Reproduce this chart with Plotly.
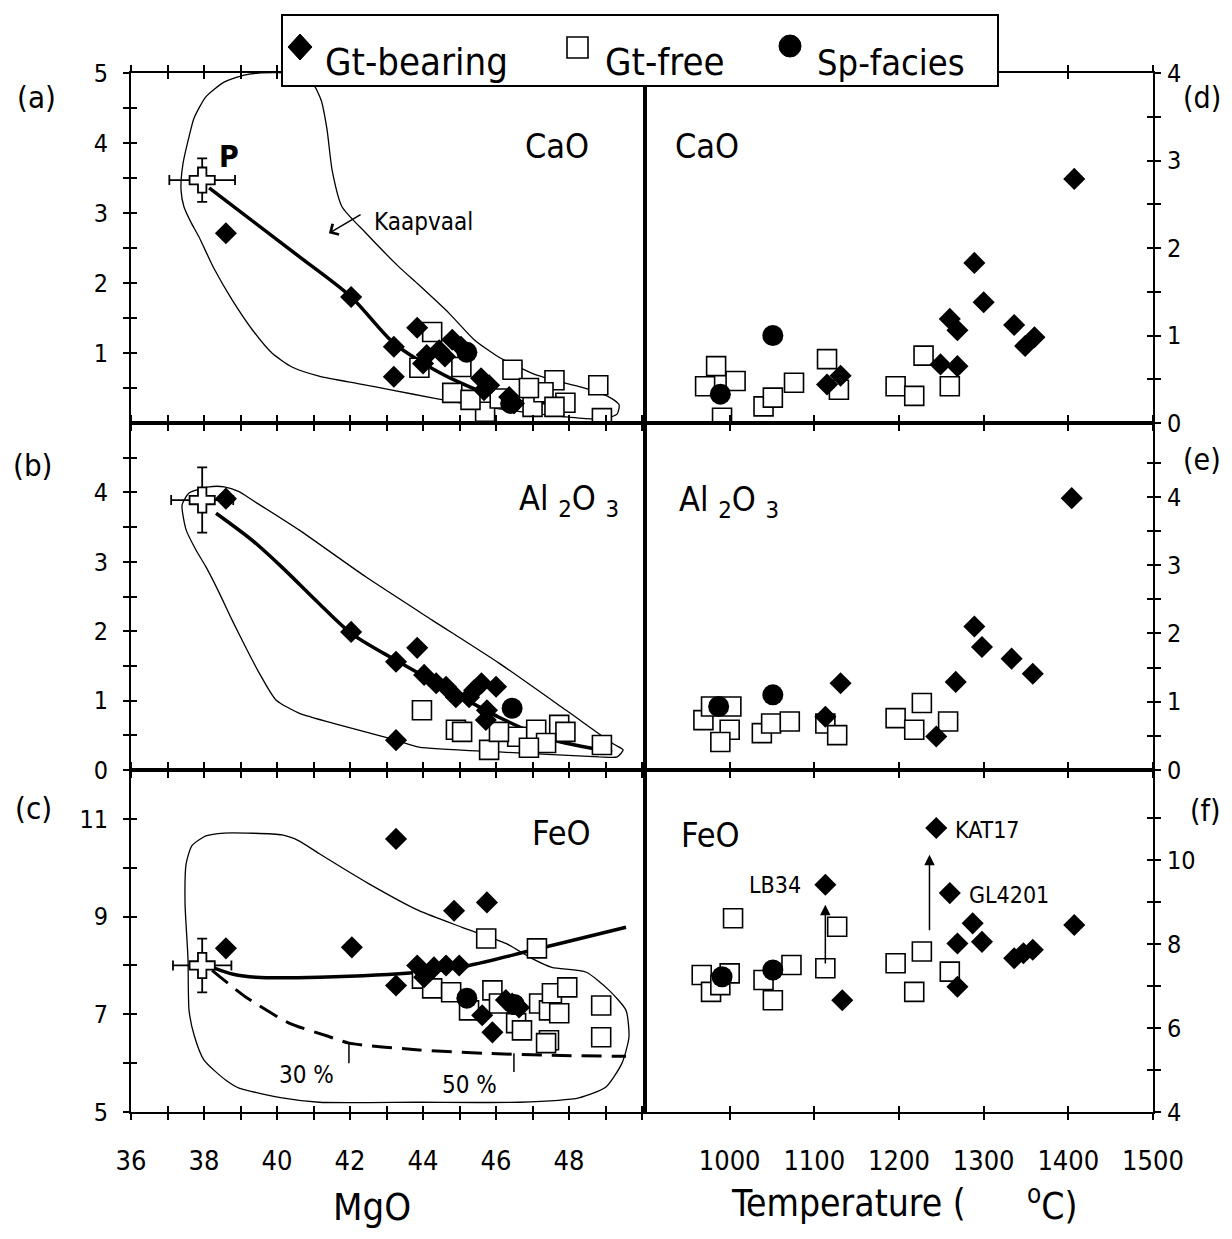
import plotly.graph_objects as go

# page is shown with an 8 px body margin: figure pixel = page pixel - 8
OFF = 8
W, H = 1232 - 2 * OFF, 1239 - 2 * OFF
FONT = "DejaVu Sans Condensed, Liberation Sans Narrow, Arial Narrow, sans-serif"

# ---------------- tick values / labels ----------------
mgo_ticks = list(range(36, 51))
mgo_labels = [str(v) if (v % 2 == 0 and v <= 48) else "" for v in mgo_ticks]
temp_ticks = [1000, 1100, 1200, 1300, 1400, 1500]
temp_labels = ["1000", "1100", "1200", "1300", "1400", "1500"]
a_yticks = [0.5, 1, 1.5, 2, 2.5, 3, 3.5, 4, 4.5, 5]
a_ylabels = ["", "1", "", "2", "", "3", "", "4", "", "5"]
b_yticks = [0, 0.5, 1, 1.5, 2, 2.5, 3, 3.5, 4, 4.5]
b_ylabels = ["0", "", "1", "", "2", "", "3", "", "4", ""]
c_yticks = [5, 6, 7, 8, 9, 10, 11]
c_ylabels = ["5", "", "7", "", "9", "", "11"]
d_yticks = [0, 0.5, 1, 1.5, 2, 2.5, 3, 3.5, 4]
d_ylabels = ["0", "", "1", "", "2", "", "3", "", "4"]
e_yticks = [0, 0.5, 1, 1.5, 2, 2.5, 3, 3.5, 4, 4.5]
e_ylabels = ["0", "", "1", "", "2", "", "3", "", "4", ""]
f_yticks = [4, 5, 6, 7, 8, 9, 10, 11]
f_ylabels = ["4", "", "6", "", "8", "", "10", ""]

# ---------------- (a) CaO vs MgO ----------------
a_gt_mgo = [38.6, 42.03, 43.84, 43.2, 43.2, 44.1, 44.44, 44.8, 45.04, 45.59, 45.81, 46.36, 46.49, 45.67, 44.0, 44.6]
a_gt_cao = [2.71, 1.80, 1.36, 1.09, 0.66, 0.97, 1.04, 1.19, 1.09, 0.64, 0.54, 0.37, 0.28, 0.47, 0.85, 0.95]
a_free_mgo = [44.25, 43.9, 44.8, 45.05, 46.45, 45.7, 45.3, 47.0, 47.6, 47.3, 47.9, 47.6, 48.8, 48.9, 46.9, 46.1]
a_free_cao = [1.30, 0.79, 0.43, 0.80, 0.76, 0.16, 0.33, 0.23, 0.61, 0.44, 0.29, 0.23, 0.54, 0.07, 0.50, 0.35]
a_sp_mgo = [45.2, 46.4]
a_sp_cao = [1.01, 0.28]
a_line_mgo = [38.14, 40.6, 42.03, 43.2, 44.25, 45.0, 45.7, 46.5, 47.2, 47.95]
a_line_cao = [3.36, 2.38, 1.80, 1.14, 0.78, 0.58, 0.43, 0.32, 0.29, 0.29]
a_env_mgo = [39.10, 38.55, 38.05, 37.73, 37.59, 37.42, 37.37, 37.45, 37.64, 37.86, 38.27, 38.77, 39.37, 39.86,
             40.41, 41.15, 42.25, 43.15, 44.25, 45.34, 46.99, 48.27, 48.96, 49.32, 49.37, 49.10, 48.36, 47.59,
             46.99, 46.08, 45.40, 44.71, 43.89, 43.34, 42.44, 41.78, 41.51, 41.37, 41.21, 41.01, 40.74, 40.33,
             39.5, 39.10]
a_env_cao = [4.97, 4.87, 4.66, 4.36, 4.09, 3.69, 3.33, 3.09, 2.87, 2.66, 2.21, 1.76, 1.30, 1.00,
             0.80, 0.67, 0.56, 0.47, 0.36, 0.26, 0.14, 0.07, 0.06, 0.13, 0.26, 0.37, 0.51, 0.61,
             0.71, 0.94, 1.19, 1.57, 1.97, 2.23, 2.71, 3.09, 3.61, 4.19, 4.61, 4.83, 4.96, 5.0,
             5.0, 4.97]
a_P = dict(mgo=37.95, val=3.47, mgo_err=0.9, val_err=0.31)

# ---------------- (b) Al2O3 vs MgO ----------------
b_gt_mgo = [38.6, 42.03, 43.26, 43.84, 44.03, 44.36, 44.63, 44.9, 45.26, 45.6, 46.0, 45.72, 43.26, 45.4, 45.75]
b_gt_al = [3.91, 1.99, 1.56, 1.76, 1.37, 1.25, 1.20, 1.05, 1.05, 1.25, 1.20, 0.72, 0.43, 1.15, 0.86]
b_free_mgo = [43.97, 44.9, 45.07, 45.81, 46.58, 47.1, 47.73, 47.9, 47.37, 48.9, 46.08, 46.9]
b_free_al = [0.86, 0.58, 0.55, 0.29, 0.48, 0.58, 0.65, 0.55, 0.39, 0.36, 0.55, 0.32]
b_sp_mgo = [46.44]
b_sp_al = [0.89]
b_line_mgo = [38.33, 39.32, 40.14, 41.15, 42.03, 43.26, 44.71, 46.08, 47.45, 49.18]
b_line_al = [3.70, 3.31, 2.92, 2.40, 1.97, 1.58, 1.15, 0.76, 0.45, 0.26]
b_env_mgo = [38.14, 37.59, 37.40, 37.51, 37.78, 38.05, 38.41, 38.77, 39.18, 39.51, 39.97, 40.60, 41.70, 43.26,
             43.89, 46.08, 48.82, 49.32, 49.48, 49.23, 47.92, 46.08, 44.25, 42.44, 40.60, 39.32, 38.96, 38.55,
             38.14]
b_env_al = [4.08, 3.99, 3.82, 3.46, 3.17, 2.93, 2.56, 2.16, 1.73, 1.40, 1.01, 0.82, 0.65, 0.43,
            0.33, 0.26, 0.19, 0.19, 0.29, 0.37, 0.86, 1.54, 2.16, 2.78, 3.46, 3.89, 4.01, 4.08,
            4.08]
b_P = dict(mgo=37.95, val=3.89, mgo_err=0.85, val_err=0.47)

# ---------------- (c) FeO vs MgO ----------------
c_gt_mgo = [38.6, 43.26, 42.05, 44.85, 45.75, 43.26, 43.84, 44.03, 44.3, 44.63, 44.99, 45.62, 45.9, 46.44, 46.63, 46.27]
c_gt_fe = [8.35, 10.59, 8.37, 9.12, 9.29, 7.59, 8.0, 7.76, 7.96, 8.0, 8.0, 6.98, 6.63, 7.22, 7.14, 7.29]
c_free_mgo = [45.73, 47.12, 43.97, 44.25, 44.77, 45.26, 45.9, 46.08, 46.55, 46.71, 47.18, 47.45, 47.53, 47.95,
              47.73, 47.45, 47.37, 48.88, 48.88]
c_free_fe = [8.55, 8.35, 7.73, 7.53, 7.45, 7.08, 7.49, 7.22, 6.82, 6.67, 7.22, 7.08, 7.43, 7.55,
             7.02, 6.47, 6.41, 7.18, 6.53]
c_sp_mgo = [45.2, 46.5]
c_sp_fe = [7.33, 7.2]
c_line_mgo = [38.22, 38.8, 39.42, 41.15, 43.89, 45.26, 46.99, 49.56]
c_line_fe = [7.96, 7.82, 7.76, 7.76, 7.86, 8.0, 8.31, 8.78]
c_dash_mgo = [38.22, 39.15, 40.33, 41.4, 41.97, 43.89, 45.73, 47.53, 49.56]
c_dash_fe = [7.9, 7.35, 6.82, 6.55, 6.41, 6.27, 6.2, 6.16, 6.14]
c_melt_mgo = [41.97, 46.49]          # 30 % and 50 % melting marks
c_melt_top = [6.41, 6.2]
c_melt_bot = [6.0, 5.82]
c_melt_labels = ["30 %", "50 %"]
c_melt_label_mgo = [40.8, 45.26]
c_melt_label_fe = [5.76, 5.55]
c_env_mgo = [38.05, 38.55, 40.14, 40.60, 41.15, 42.52, 43.89, 45.07, 46.27, 46.99, 47.53, 48.47, 49.10, 49.56,
             49.64, 49.45, 49.01, 48.27, 46.63, 43.89, 41.15, 40.14, 38.96, 38.60, 38.0, 37.73, 37.59, 37.56,
             37.48, 37.51, 37.67, 38.05]
c_env_fe = [10.65, 10.71, 10.67, 10.55, 10.29, 9.67, 9.12, 8.78, 8.45, 8.14, 7.96, 7.86, 7.49, 7.08,
            6.53, 6.0, 5.51, 5.29, 5.20, 5.20, 5.20, 5.29, 5.49, 5.65, 6.06, 6.57, 7.08, 8.16,
            9.27, 10.08, 10.45, 10.65]
c_P = dict(mgo=37.95, val=8.0, mgo_err=0.8, val_err=0.55)

# ---------------- (d) CaO vs T ----------------
d_gt_t = [1115, 1131, 1249, 1269, 1260, 1269, 1289, 1300, 1336, 1349, 1360, 1407]
d_gt_cao = [0.44, 0.54, 0.67, 0.65, 1.19, 1.06, 1.83, 1.38, 1.12, 0.88, 0.98, 2.79]
d_free_t = [984, 971, 1007, 991, 1040, 1051, 1076, 1115, 1129, 1196, 1218, 1229, 1260]
d_free_cao = [0.65, 0.42, 0.48, 0.06, 0.19, 0.29, 0.46, 0.73, 0.38, 0.42, 0.31, 0.77, 0.42]
d_sp_t = [989, 1051]
d_sp_cao = [0.33, 1.0]

# ---------------- (e) Al2O3 vs T ----------------
e_gt_t = [1404, 1289, 1298, 1333, 1358, 1267, 1131, 1113, 1244]
e_gt_al = [3.98, 2.10, 1.80, 1.63, 1.41, 1.29, 1.27, 0.78, 0.49]
e_free_t = [969, 978, 1002, 1000, 989, 1038, 1049, 1071, 1113, 1127, 1196, 1227, 1218, 1258]
e_free_al = [0.73, 0.93, 0.93, 0.59, 0.41, 0.54, 0.68, 0.71, 0.68, 0.51, 0.76, 0.98, 0.59, 0.71]
e_sp_t = [987, 1051]
e_sp_al = [0.93, 1.10]

# ---------------- (f) FeO vs T ----------------
f_gt_t = [1244, 1113, 1260, 1407, 1287, 1298, 1269, 1336, 1347, 1358, 1269, 1133]
f_gt_fe = [10.76, 9.41, 9.21, 8.45, 8.49, 8.05, 8.01, 7.66, 7.78, 7.86, 6.98, 6.66]
f_free_t = [1004, 967, 978, 1000, 989, 1040, 1051, 1073, 1113, 1127, 1196, 1227, 1218, 1260]
f_free_fe = [8.61, 7.26, 6.86, 7.30, 7.02, 7.14, 6.66, 7.50, 7.42, 8.41, 7.54, 7.82, 6.86, 7.34]
f_sp_t = [991, 1051]
f_sp_fe = [7.22, 7.38]
f_sample_names = ["LB34", "KAT17", "GL4201"]
f_sample_t = [1087, 1264, 1280]
f_sample_fe = [9.41, 10.72, 9.17]
f_arrow_t = [1113, 1236]
f_arrow_from = [7.5, 8.29]
f_arrow_to = [8.93, 10.12]

# ---------------- layout geometry (page pixels) ----------------
XL, XM, XR = 131, 645, 1153
ROWS = [(73, 423), (423, 770), (770, 1112)]


def fx(px):
    return (px - OFF) / W


def fy(py):
    return 1 - (py - OFF) / H


fig = go.Figure()

GT = dict(symbol="diamond", size=17, color="black", line=dict(width=0))
FREE = dict(symbol="square", size=19, color="white", line=dict(color="black", width=1.6))
SP = dict(symbol="circle", size=21, color="black", line=dict(width=0))


def add(x, y, ax, **kw):
    fig.add_trace(go.Scatter(x=x, y=y, xaxis="x" + ax, yaxis="y" + ax, showlegend=False,
                             hoverinfo="skip", **kw))


def add_points(ax, free, gt, sp):
    add(free[0], free[1], ax, mode="markers", marker=FREE)
    add(gt[0], gt[1], ax, mode="markers", marker=GT)
    add(sp[0], sp[1], ax, mode="markers", marker=SP)


def add_P(ax, P):
    add([P["mgo"]], [P["val"]], ax, mode="markers",
        marker=dict(symbol="cross", size=21, color="white", line=dict(color="black", width=1.8)),
        error_x=dict(type="data", array=[P["mgo_err"]], color="black", thickness=1.8, width=5),
        error_y=dict(type="data", array=[P["val_err"]], color="black", thickness=1.8, width=5))


ENV = dict(color="black", width=1.3, shape="spline", smoothing=0.6)
MODEL = dict(color="black", width=3.5, shape="spline", smoothing=0.8)

# (a)
add(a_env_mgo, a_env_cao, "", mode="lines", line=ENV)
add(a_line_mgo, a_line_cao, "", mode="lines", line=MODEL)
add_points("", (a_free_mgo, a_free_cao), (a_gt_mgo, a_gt_cao), (a_sp_mgo, a_sp_cao))
add_P("", a_P)
# (b)
add(b_env_mgo, b_env_al, "2", mode="lines", line=ENV)
add(b_line_mgo, b_line_al, "2", mode="lines", line=MODEL)
add_points("2", (b_free_mgo, b_free_al), (b_gt_mgo, b_gt_al), (b_sp_mgo, b_sp_al))
add_P("2", b_P)
# (c)
add(c_env_mgo, c_env_fe, "3", mode="lines", line=ENV)
add(c_line_mgo, c_line_fe, "3", mode="lines", line=MODEL)
add(c_dash_mgo, c_dash_fe, "3", mode="lines",
    line=dict(color="black", width=3, dash="20px,10px", shape="spline", smoothing=0.6))
mx, my = [], []
for m, t, b in zip(c_melt_mgo, c_melt_top, c_melt_bot):
    mx += [m, m, None]
    my += [t, b, None]
add(mx, my, "3", mode="lines", line=dict(color="black", width=1.5))
add_points("3", (c_free_mgo, c_free_fe), (c_gt_mgo, c_gt_fe), (c_sp_mgo, c_sp_fe))
add_P("3", c_P)
# (d) (e) (f)
add_points("4", (d_free_t, d_free_cao), (d_gt_t, d_gt_cao), (d_sp_t, d_sp_cao))
add_points("5", (e_free_t, e_free_al), (e_gt_t, e_gt_al), (e_sp_t, e_sp_al))
add_points("6", (f_free_t, f_free_fe), (f_gt_t, f_gt_fe), (f_sp_t, f_sp_fe))

# empty traces to activate the overlay (inner tick) axes
for i in range(7, 13):
    add([], [], str(i), mode="markers")

# ---------------- axes ----------------
panels = [
    # id, col, row, xrange, yrange, yticks, ylabels, show x labels
    ("", 0, 0, [36, 50.08], [0, 5], a_yticks, a_ylabels, False),
    ("2", 0, 1, [36, 50.08], [0, 5], b_yticks, b_ylabels, False),
    ("3", 0, 2, [36, 50.08], [5, 12], c_yticks, c_ylabels, True),
    ("4", 1, 0, [900, 1500], [0, 4], d_yticks, d_ylabels, False),
    ("5", 1, 1, [900, 1500], [0, 5.08], e_yticks, e_ylabels, False),
    ("6", 1, 2, [900, 1500], [4, 12.14], f_yticks, f_ylabels, True),
]

AXBASE = dict(showgrid=False, zeroline=False, showline=True, linecolor="black", linewidth=2,
              tickcolor="black", tickwidth=2, ticklen=6, fixedrange=True, automargin=False)

lay = {}
for k, (pid, col, row, xr, yr, yt, yl, showx) in enumerate(panels):
    xd = [fx(XL), fx(XM)] if col == 0 else [fx(XM), fx(XR)]
    yd = [fy(ROWS[row][1]), fy(ROWS[row][0])]
    xt = mgo_ticks if col == 0 else temp_ticks
    xl = mgo_labels if col == 0 else temp_labels
    xname = "xaxis" + pid
    yname = "yaxis" + pid
    lay[xname] = dict(AXBASE, domain=xd, range=xr, anchor="y" + pid, ticks="outside", mirror="ticks",
                      tickmode="array", tickvals=xt, ticktext=xl, showticklabels=showx,
                      tickfont=dict(family=FONT, size=27, color="black"), ticklabelstandoff=18)
    lay[yname] = dict(AXBASE, domain=yd, range=yr, anchor="x" + pid, ticks="outside", mirror=True,
                      side="left" if col == 0 else "right",
                      tickmode="array", tickvals=yt, ticktext=yl, showticklabels=True,
                      tickfont=dict(family=FONT, size=25, color="black"),
                      ticklabelstandoff=10 if col == 0 else 1)
    o = str(7 + k)
    lay["xaxis" + o] = dict(AXBASE, overlaying="x" + pid, range=xr, anchor="y" + o, ticks="inside",
                            mirror="ticks", tickmode="array", tickvals=xt, showticklabels=False)
    lay["yaxis" + o] = dict(AXBASE, overlaying="y" + pid, range=yr, anchor="x" + o, ticks="inside",
                            side="left" if col == 0 else "right",
                            tickmode="array", tickvals=yt, showticklabels=False)

fig.update_layout(**lay)

# ---------------- annotations ----------------
ann = []


def txt(text, x, y, size, xref="paper", yref="paper", xanchor="center", yanchor="middle", **kw):
    ann.append(dict(text=text, x=x, y=y, xref=xref, yref=yref, xanchor=xanchor, yanchor=yanchor,
                    showarrow=False, font=dict(family=FONT, size=size, color="black"), **kw))


# oxide labels inside the panels
txt("CaO", 47.67, 3.96, 34, "x", "y")
txt("Al <sub>2</sub>O <sub>3</sub>", 48.0, 3.89, 34, "x2", "y2")
txt("FeO", 47.8, 10.71, 34, "x3", "y3")
txt("CaO", 973, 3.16, 34, "x4", "y4")
txt("Al <sub>2</sub>O <sub>3</sub>", 999, 3.93, 34, "x5", "y5")
txt("FeO", 977, 10.6, 34, "x6", "y6")
# P label
txt("<b>P</b>", 38.68, 3.8, 30, "x", "y")
# Kaapvaal label and arrow
txt("Kaapvaal", 42.6, 2.87, 24, "x", "y", xanchor="left")
ann.append(dict(x=41.42, y=2.71, ax=42.33, ay=2.99, xref="x", yref="y", axref="x", ayref="y",
                text="", showarrow=True, arrowhead=4, arrowsize=1.6, arrowwidth=1.5, arrowcolor="black"))
# melting degree labels
for lab, m, v in zip(c_melt_labels, c_melt_label_mgo, c_melt_label_fe):
    txt(lab, m, v, 24, "x3", "y3")
# sample labels in (f)
for name, t, v in zip(f_sample_names, f_sample_t, f_sample_fe):
    txt(name, t, v, 23, "x6", "y6", xanchor="right" if name == "LB34" else "left")
for t, v0, v1 in zip(f_arrow_t, f_arrow_from, f_arrow_to):
    ann.append(dict(x=t, y=v1, ax=t, ay=v0, xref="x6", yref="y6", axref="x6", ayref="y6",
                    text="", showarrow=True, arrowhead=2, arrowsize=1.4, arrowwidth=1.5, arrowcolor="black"))
# panel letters
for lab, px, py in [("(a)", 36, 97), ("(b)", 32, 465), ("(c)", 33, 808)]:
    txt(lab, fx(px), fy(py), 31)
for lab, py in [("(d)", 97), ("(e)", 460), ("(f)", 810)]:
    txt(lab, fx(1223), fy(py), 30, xanchor="right")
# axis titles
txt("MgO", fx(372), fy(1207), 38)
txt("Temperature (", fx(968), fy(1203), 37, xanchor="right")
txt("<sup>o</sup>C)", fx(1025), fy(1203), 37, xanchor="left")
# legend texts
txt("Gt-bearing", fx(323), fy(62), 38, xanchor="left")
txt("Gt-free", fx(603), fy(62), 38, xanchor="left")
txt("Sp-facies", fx(815), fy(62), 36, xanchor="left")

# legend box and symbols (paper coordinates)
shapes = [
    dict(type="rect", xref="paper", yref="paper", x0=fx(282), x1=fx(998), y0=fy(86), y1=fy(15),
         line=dict(color="black", width=2), fillcolor="white", layer="above"),
    dict(type="path", xref="paper", yref="paper",
         path="M {0},{1} L {2},{3} L {0},{4} L {5},{3} Z".format(fx(300), fy(34), fx(312), fy(47), fy(60), fx(288)),
         fillcolor="black", line=dict(color="black", width=1), layer="above"),
    dict(type="rect", xref="paper", yref="paper", x0=fx(567), x1=fx(588), y0=fy(58), y1=fy(37),
         line=dict(color="black", width=1.6), fillcolor="white", layer="above"),
    dict(type="circle", xref="paper", yref="paper", x0=fx(779), x1=fx(801), y0=fy(57), y1=fy(35),
         line=dict(color="black", width=1), fillcolor="black", layer="above"),
]

fig.update_layout(width=W, height=H, margin=dict(l=0, r=0, t=0, b=0),
                  paper_bgcolor="white", plot_bgcolor="white", showlegend=False,
                  annotations=ann, shapes=shapes)

fig.write_html("out.html")
